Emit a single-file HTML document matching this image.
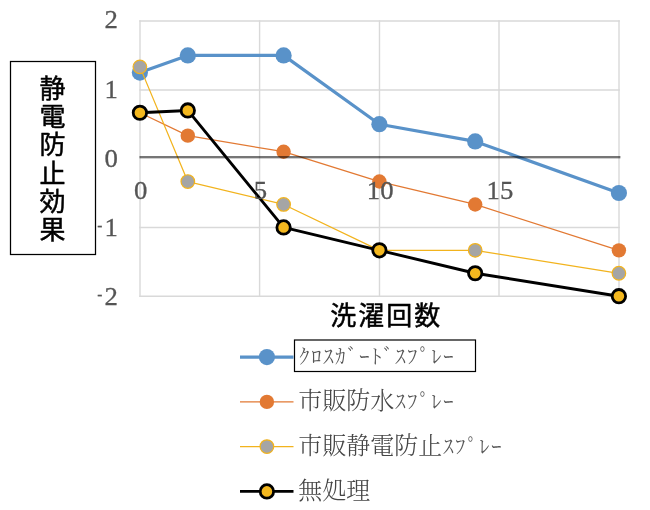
<!DOCTYPE html>
<html lang="ja">
<head>
<meta charset="utf-8">
<title>静電防止効果</title>
<style>
html,body{margin:0;padding:0;background:#fff;}
body{width:650px;height:510px;overflow:hidden;}
svg{display:block;}
.num{font-family:"Liberation Serif",serif;font-size:26px;fill:#555555;stroke:#555555;stroke-width:0.3px;}
.goth{font-family:"Liberation Sans","Noto Sans CJK JP",sans-serif;font-weight:normal;font-size:26px;fill:#000;stroke:#000;stroke-width:0.5px;stroke-linejoin:round;}
.leg{font-family:"Liberation Serif","Noto Serif CJK SC",serif;font-size:24px;fill:#454545;font-weight:300;}
.mn{font-size:15px;font-weight:bold;stroke-width:0.2px;}
.hk{font-size:20.5px;font-kerning:none;fill:#555555;}
</style>
</head>
<body>
<svg width="650" height="510" viewBox="0 0 650 510">
<rect width="650" height="510" fill="#ffffff"/>
<g stroke="#d9d9d9" stroke-width="1.4" fill="none">
<line x1="140.00" y1="20.3" x2="140.00" y2="297"/>
<line x1="259.60" y1="20.3" x2="259.60" y2="297"/>
<line x1="379.50" y1="20.3" x2="379.50" y2="297"/>
<line x1="499.00" y1="20.3" x2="499.00" y2="297"/>
<line x1="619.00" y1="20.3" x2="619.00" y2="297"/>
<line x1="139.3" y1="21.0" x2="619.8" y2="21.0"/>
<line x1="139.3" y1="89.95" x2="619.8" y2="89.95"/>
<line x1="139.3" y1="227.45" x2="619.8" y2="227.45"/>
<line x1="139.3" y1="296.3" x2="619.8" y2="296.3"/>
</g>
<polyline points="139.90,72.60 187.80,55.40 283.60,55.40 379.40,124.20 475.20,141.40 618.90,193.00" fill="none" stroke="#5992c9" stroke-width="3.2" stroke-linejoin="round"/>
<circle cx="139.90" cy="72.60" r="8.1" fill="#5992c9"/>
<circle cx="187.80" cy="55.40" r="8.1" fill="#5992c9"/>
<circle cx="283.60" cy="55.40" r="8.1" fill="#5992c9"/>
<circle cx="379.40" cy="124.20" r="8.1" fill="#5992c9"/>
<circle cx="475.20" cy="141.40" r="8.1" fill="#5992c9"/>
<circle cx="618.90" cy="193.00" r="8.1" fill="#5992c9"/>
<polyline points="139.90,112.73 187.80,135.67 283.60,151.72 379.40,181.53 475.20,204.47 618.90,250.33" fill="none" stroke="#e27933" stroke-width="1.25" stroke-linejoin="round"/>
<circle cx="139.90" cy="112.73" r="7.2" fill="#e27933"/>
<circle cx="187.80" cy="135.67" r="7.2" fill="#e27933"/>
<circle cx="283.60" cy="151.72" r="7.2" fill="#e27933"/>
<circle cx="379.40" cy="181.53" r="7.2" fill="#e27933"/>
<circle cx="475.20" cy="204.47" r="7.2" fill="#e27933"/>
<circle cx="618.90" cy="250.33" r="7.2" fill="#e27933"/>
<polyline points="139.90,66.87 187.80,181.53 283.60,204.47 379.40,250.33 475.20,250.33 618.90,273.27" fill="none" stroke="#f2b31d" stroke-width="1.25" stroke-linejoin="round"/>
<circle cx="139.90" cy="66.87" r="6.8" fill="#a5a5a5" stroke="#f2b31d" stroke-width="1.2"/>
<circle cx="187.80" cy="181.53" r="6.8" fill="#a5a5a5" stroke="#f2b31d" stroke-width="1.2"/>
<circle cx="283.60" cy="204.47" r="6.8" fill="#a5a5a5" stroke="#f2b31d" stroke-width="1.2"/>
<circle cx="379.40" cy="250.33" r="6.8" fill="#a5a5a5" stroke="#f2b31d" stroke-width="1.2"/>
<circle cx="475.20" cy="250.33" r="6.8" fill="#a5a5a5" stroke="#f2b31d" stroke-width="1.2"/>
<circle cx="618.90" cy="273.27" r="6.8" fill="#a5a5a5" stroke="#f2b31d" stroke-width="1.2"/>
<polyline points="139.90,112.73 187.80,110.44 283.60,227.40 379.40,250.33 475.20,273.27 618.90,296.20" fill="none" stroke="#000000" stroke-width="2.9" stroke-linejoin="round"/>
<circle cx="139.90" cy="112.73" r="6.7" fill="#f4b81f" stroke="#000000" stroke-width="2.8"/>
<circle cx="187.80" cy="110.44" r="6.7" fill="#f4b81f" stroke="#000000" stroke-width="2.8"/>
<circle cx="283.60" cy="227.40" r="6.7" fill="#f4b81f" stroke="#000000" stroke-width="2.8"/>
<circle cx="379.40" cy="250.33" r="6.7" fill="#f4b81f" stroke="#000000" stroke-width="2.8"/>
<circle cx="475.20" cy="273.27" r="6.7" fill="#f4b81f" stroke="#000000" stroke-width="2.8"/>
<circle cx="618.90" cy="296.20" r="6.7" fill="#f4b81f" stroke="#000000" stroke-width="2.8"/>
<rect x="139.5" y="156" width="480.9" height="2.35" fill="#767676" style="mix-blend-mode:multiply"/>
<text class="num" transform="translate(117.80,28.39) scale(1.03,1)" text-anchor="end">2</text>
<text class="num" transform="translate(117.80,97.99) scale(1.03,1)" text-anchor="end">1</text>
<text class="num" transform="translate(117.80,166.99) scale(1.03,1)" text-anchor="end">0</text>
<text class="num" transform="translate(117.80,236.19) scale(1.03,1)" text-anchor="end"><tspan class="mn" dy="-6.0">-</tspan><tspan dy="6.0" dx="1.9">1</tspan></text>
<text class="num" transform="translate(117.80,304.59) scale(1.03,1)" text-anchor="end"><tspan class="mn" dy="-6.0">-</tspan><tspan dy="6.0" dx="1.9">2</tspan></text>
<text class="num" transform="translate(140.70,199.39) scale(1.03,1)" text-anchor="middle">0</text>
<text class="num" transform="translate(260.45,199.39) scale(1.03,1)" text-anchor="middle">5</text>
<text class="num" transform="translate(380.20,199.39) scale(1.03,1)" text-anchor="middle">10</text>
<text class="num" transform="translate(499.95,199.39) scale(1.03,1)" text-anchor="middle">15</text>
<rect x="10.5" y="61.5" width="85" height="193" fill="#fff" stroke="#000" stroke-width="1.25"/>
<text class="goth" text-anchor="middle"><tspan x="52.5" y="97.9">静</tspan><tspan x="52.5" y="126.2">電</tspan><tspan x="52.5" y="154.4">防</tspan><tspan x="52.5" y="182.7">止</tspan><tspan x="52.5" y="210.9">効</tspan><tspan x="52.5" y="239.2">果</tspan></text>
<text class="goth" x="386.2" y="324.5" text-anchor="middle" letter-spacing="2">洗濯回数</text>
<rect x="294.5" y="340" width="181" height="31.5" fill="#fff" stroke="#000" stroke-width="1.2"/>
<line x1="240" y1="357.1" x2="293.5" y2="357.1" stroke="#5992c9" stroke-width="3.2"/>
<circle cx="266.9" cy="357.1" r="8.1" fill="#5992c9"/>
<text class="leg" x="298.3" y="364.2"><tspan class="hk" x="299.18 311.18 323.18 335.18 347.18 359.18 371.18 383.18 395.18 407.18 419.18 431.18 443.18">ｸﾛｽｶﾞｰﾄﾞｽﾌﾟﾚｰ</tspan></text>
<line x1="240" y1="401.9" x2="293.5" y2="401.9" stroke="#e27933" stroke-width="1.25"/>
<circle cx="266.9" cy="401.9" r="7.2" fill="#e27933"/>
<text class="leg" x="298.3" y="409.0">市販防水<tspan class="hk" x="395.18 407.18 419.18 431.18 443.18">ｽﾌﾟﾚｰ</tspan></text>
<line x1="240" y1="446.6" x2="293.5" y2="446.6" stroke="#f2b31d" stroke-width="1.25"/>
<circle cx="266.9" cy="446.6" r="6.8" fill="#a5a5a5" stroke="#f2b31d" stroke-width="1.2"/>
<text class="leg" x="298.3" y="453.7">市販静電防止<tspan class="hk" x="443.18 455.18 467.18 479.18 491.18">ｽﾌﾟﾚｰ</tspan></text>
<line x1="240" y1="491.4" x2="293.5" y2="491.4" stroke="#000000" stroke-width="2.9"/>
<circle cx="266.9" cy="491.4" r="6.7" fill="#f4b81f" stroke="#000000" stroke-width="2.8"/>
<text class="leg" x="298.3" y="498.5">無処理</text>
</svg>
</body>
</html>
